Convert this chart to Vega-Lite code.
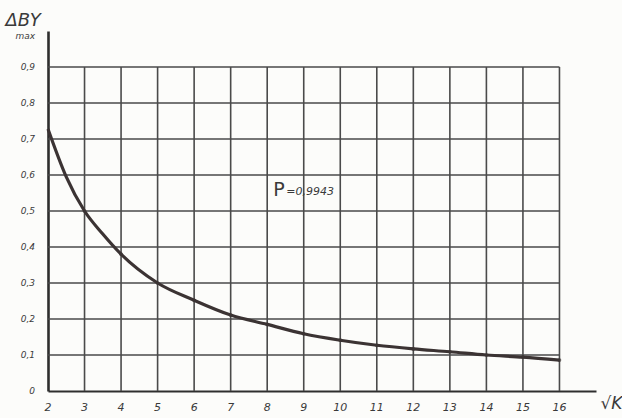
{
  "$schema": "https://vega.github.io/schema/vega-lite/v6.json",
  "autosize": "none",
  "width": 548,
  "height": 360,
  "padding": {"left": 48, "top": 31, "right": 26, "bottom": 27},
  "background": "#fcfcfa",
  "config": {
    "view": {"stroke": null},
    "font": "DejaVu Sans",
    "axis": {"grid": false, "ticks": false, "labels": false},
    "axisX": {
      "domainColor": "#2e2e2e", "domainWidth": 2.2,
      "titleFont": "DejaVu Sans", "titleFontStyle": "italic",
      "titleFontWeight": "normal", "titleFontSize": 17, "titleColor": "#3a3a3a",
      "titleX": 563, "titleY": 12, "titleAlign": "center", "titleBaseline": "middle"
    },
    "axisY": {"domainColor": "#2e2e2e", "domainWidth": 2.6}
  },
  "datasets": {
    "curve": [
      {"k": 2, "d": 0.728},
      {"k": 2.5, "d": 0.595},
      {"k": 3, "d": 0.5},
      {"k": 3.5, "d": 0.436},
      {"k": 4, "d": 0.38},
      {"k": 5, "d": 0.3},
      {"k": 6, "d": 0.252},
      {"k": 7, "d": 0.211},
      {"k": 8, "d": 0.185},
      {"k": 9, "d": 0.159},
      {"k": 10, "d": 0.141},
      {"k": 11, "d": 0.127},
      {"k": 12, "d": 0.117},
      {"k": 13, "d": 0.109},
      {"k": 14, "d": 0.1},
      {"k": 15, "d": 0.094},
      {"k": 16, "d": 0.086}
    ],
    "marks": [
      {"k": 3, "d": 0.5}, {"k": 4, "d": 0.38}, {"k": 5, "d": 0.3}, {"k": 6, "d": 0.252},
      {"k": 7, "d": 0.211}, {"k": 8, "d": 0.185}, {"k": 9, "d": 0.159}, {"k": 10, "d": 0.141},
      {"k": 11, "d": 0.127}, {"k": 12, "d": 0.117}, {"k": 13, "d": 0.109}, {"k": 14, "d": 0.1},
      {"k": 15, "d": 0.094}, {"k": 16, "d": 0.086}
    ],
    "xticks": [
      {"g": 2, "lab": "2"}, {"g": 3, "lab": "3"}, {"g": 4, "lab": "4"}, {"g": 5, "lab": "5"},
      {"g": 6, "lab": "6"}, {"g": 7, "lab": "7"}, {"g": 8, "lab": "8"}, {"g": 9, "lab": "9"},
      {"g": 10, "lab": "10"}, {"g": 11, "lab": "11"}, {"g": 12, "lab": "12"}, {"g": 13, "lab": "13"},
      {"g": 14, "lab": "14"}, {"g": 15, "lab": "15"}, {"g": 16, "lab": "16"}
    ],
    "yticks": [
      {"g": 0, "lab": "0"}, {"g": 0.1, "lab": "0,1"}, {"g": 0.2, "lab": "0,2"}, {"g": 0.3, "lab": "0,3"},
      {"g": 0.4, "lab": "0,4"}, {"g": 0.5, "lab": "0,5"}, {"g": 0.6, "lab": "0,6"},
      {"g": 0.7, "lab": "0,7"}, {"g": 0.8, "lab": "0,8"}, {"g": 0.9, "lab": "0,9"}
    ]
  },
  "layer": [
    {
      "data": {"name": "xticks"},
      "transform": [{"filter": "datum.g > 2"}],
      "mark": {"type": "rule", "color": "#4a4a4a", "strokeWidth": 1.6},
      "encoding": {
        "x": {
          "field": "g", "type": "quantitative",
          "scale": {"domain": [2, 17], "nice": false, "zero": false},
          "axis": {"title": "√K"}
        },
        "y": {
          "datum": 0, "type": "quantitative",
          "scale": {"domain": [0, 1], "nice": false},
          "axis": {"title": null}
        },
        "y2": {"datum": 0.9}
      }
    },
    {
      "data": {"name": "yticks"},
      "transform": [{"filter": "datum.g > 0"}],
      "mark": {"type": "rule", "color": "#4a4a4a", "strokeWidth": 1.6},
      "encoding": {
        "y": {"field": "g", "type": "quantitative"},
        "x": {"datum": 2, "type": "quantitative"},
        "x2": {"datum": 16}
      }
    },
    {
      "data": {"name": "xticks"},
      "mark": {"type": "text", "font": "DejaVu Sans", "fontSize": 11, "fontStyle": "italic", "color": "#3a3a3a", "align": "center", "baseline": "middle", "dy": 17},
      "encoding": {
        "x": {"field": "g", "type": "quantitative"},
        "y": {"datum": 0, "type": "quantitative"},
        "text": {"field": "lab"}
      }
    },
    {
      "data": {"name": "yticks"},
      "mark": {"type": "text", "font": "DejaVu Sans", "fontSize": 9, "fontStyle": "italic", "color": "#3a3a3a", "align": "right", "baseline": "middle", "dx": -13},
      "encoding": {
        "y": {"field": "g", "type": "quantitative"},
        "x": {"datum": 2, "type": "quantitative"},
        "text": {"field": "lab"}
      }
    },
    {
      "data": {"name": "curve"},
      "mark": {"type": "line", "interpolate": "monotone", "color": "#3b3333", "strokeWidth": 3.2},
      "encoding": {
        "x": {"field": "k", "type": "quantitative"},
        "y": {"field": "d", "type": "quantitative"}
      }
    },
    {
      "data": {"name": "marks"},
      "mark": {"type": "point", "filled": true, "color": "#3b3333", "size": 14},
      "encoding": {
        "x": {"field": "k", "type": "quantitative"},
        "y": {"field": "d", "type": "quantitative"}
      }
    },
    {
      "data": {"values": [{"t": "P"}]},
      "mark": {"type": "text", "font": "DejaVu Sans", "fontSize": 19, "color": "#3a3a3a", "align": "center", "baseline": "middle"},
      "encoding": {
        "x": {"datum": 8.32, "type": "quantitative"},
        "y": {"datum": 0.557, "type": "quantitative"},
        "text": {"field": "t"}
      }
    },
    {
      "data": {"values": [{"t": "=0,9943"}]},
      "mark": {"type": "text", "font": "DejaVu Sans", "fontSize": 11, "fontStyle": "italic", "color": "#3a3a3a", "align": "left", "baseline": "middle"},
      "encoding": {
        "x": {"datum": 8.52, "type": "quantitative"},
        "y": {"datum": 0.552, "type": "quantitative"},
        "text": {"field": "t"}
      }
    },
    {
      "data": {"values": [{"t": "ΔBY"}]},
      "mark": {"type": "text", "font": "DejaVu Sans", "fontSize": 18, "fontStyle": "italic", "color": "#3a3a3a", "align": "center", "baseline": "middle"},
      "encoding": {
        "x": {"datum": 1.32, "type": "quantitative"},
        "y": {"datum": 1.028, "type": "quantitative"},
        "text": {"field": "t"}
      }
    },
    {
      "data": {"values": [{"t": "max"}]},
      "mark": {"type": "text", "font": "DejaVu Sans", "fontSize": 9, "fontStyle": "italic", "color": "#3a3a3a", "align": "center", "baseline": "middle"},
      "encoding": {
        "x": {"datum": 1.38, "type": "quantitative"},
        "y": {"datum": 0.985, "type": "quantitative"},
        "text": {"field": "t"}
      }
    }
  ]
}
